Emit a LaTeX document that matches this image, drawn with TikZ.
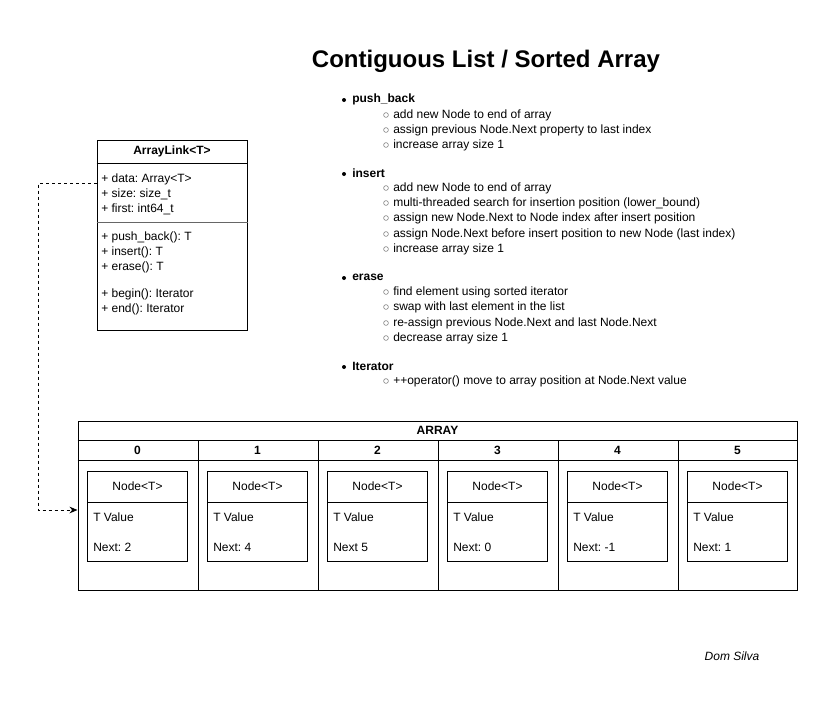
\documentclass[tikz,border=0pt]{standalone}
\usepackage{fontspec}
\setmainfont{Liberation Sans}
\usetikzlibrary{arrows.meta}
\frenchspacing

\begin{document}
\begin{tikzpicture}[x=0.75pt,y=-0.75pt,
    txt/.style={anchor=west,inner sep=0pt,font=\fontsize{9}{11}\selectfont},
    ctxt/.style={inner sep=0pt,font=\fontsize{9}{11}\selectfont},
    btxt/.style={ctxt,font=\fontsize{9}{11}\selectfont\bfseries},
    bul/.style={circle,fill=black,inner sep=0pt,minimum size=3pt},
    subbul/.style={circle,draw=black!55,line width=0.4pt,inner sep=0pt,minimum size=3.6pt},
    cellbox/.style={draw,line width=0.75pt,minimum width=75pt,minimum height=67.5pt,inner sep=0pt},
    link/.style={draw,line width=0.75pt,dash pattern=on 2.25pt off 2.25pt,-{Stealth[length=6pt,width=5pt]}}]
  \useasboundingbox (0,0) rectangle (828,701);

  % Title
  \node[inner sep=0pt,font=\fontsize{18}{22}\selectfont\bfseries] (title) at (486,61) {Contiguous List / Sorted Array};

  % Class box
  \node[draw,line width=0.75pt,minimum width=112.5pt,minimum height=142.5pt,inner sep=0pt] (cls) at (172,235) {};
  \node[btxt] (clsname) at (172,151) {ArrayLink<T>};
  \draw[line width=0.75pt] (cls.west |- 0,163) -- (cls.east |- 0,163);
  \draw[line width=0.4pt,black!60] (cls.west |- 0,222) -- (cls.east |- 0,222);
  \node[txt] (fdata) at (101,179) {+ data: Array<T>};
  \node[txt] (fsize) at (101,194) {+ size: size\_t};
  \node[txt] (ffirst) at (101,209) {+ first: int64\_t};
  \node[txt] (mpush) at (101,237) {+ push\_back(): T};
  \node[txt] (minsert) at (101,252) {+ insert(): T};
  \node[txt] (merase) at (101,267) {+ erase(): T};
  \node[txt] (mbegin) at (101,294) {+ begin(): Iterator};
  \node[txt] (mend) at (101,309) {+ end(): Iterator};

  % Notes
  \node[bul] (b1) at (344,100) {};
  \node[txt,font=\fontsize{9}{11}\selectfont\bfseries] (h1) at (352,99) {push\_back};
  \node[subbul] at (386,115) {};
  \node[txt] (s11) at (393,115) {add new Node to end of array};
  \node[subbul] at (386,130) {};
  \node[txt] (s12) at (393,130) {assign previous Node.Next property to last index};
  \node[subbul] at (386,145) {};
  \node[txt] (s13) at (393,145) {increase array size 1};

  \node[bul] (b2) at (344,174) {};
  \node[txt,font=\fontsize{9}{11}\selectfont\bfseries] (h2) at (352,173) {insert};
  \node[subbul] at (386,188) {};
  \node[txt] (s21) at (393,188) {add new Node to end of array};
  \node[subbul] at (386,203) {};
  \node[txt] (s22) at (393,203) {multi-threaded search for insertion position (lower\_bound)};
  \node[subbul] at (386,218) {};
  \node[txt] (s23) at (393,218) {assign new Node.Next to Node index after insert position};
  \node[subbul] at (386,234) {};
  \node[txt] (s24) at (393,234) {assign Node.Next before insert position to new Node (last index)};
  \node[subbul] at (386,249) {};
  \node[txt] (s25) at (393,249) {increase array size 1};

  \node[bul] (b3) at (344,278) {};
  \node[txt,font=\fontsize{9}{11}\selectfont\bfseries] (h3) at (352,277) {erase};
  \node[subbul] at (386,292) {};
  \node[txt] (s31) at (393,292) {find element using sorted iterator};
  \node[subbul] at (386,307) {};
  \node[txt] (s32) at (393,307) {swap with last element in the list};
  \node[subbul] at (386,323) {};
  \node[txt] (s33) at (393,323) {re-assign previous Node.Next and last Node.Next};
  \node[subbul] at (386,338) {};
  \node[txt] (s34) at (393,338) {decrease array size 1};

  \node[bul] (b4) at (344,367) {};
  \node[txt,font=\fontsize{9}{11}\selectfont\bfseries] (h4) at (352,366) {Iterator};
  \node[subbul] at (386,381) {};
  \node[txt] (s41) at (393,381) {++operator() move to array position at Node.Next value};

  % Array
  \node[draw,line width=0.75pt,minimum width=539.25pt,minimum height=126.75pt,inner sep=0pt] (arr) at (437.5,505.5) {};
  \node[btxt] (arrname) at (437.5,430) {ARRAY};
  \draw[line width=0.75pt] (arr.west |- 0,440) -- (arr.east |- 0,440);
  \draw[line width=0.75pt] (arr.west |- 0,460) -- (arr.east |- 0,460);
  \foreach \i/\nxt in {0/Next: 2,1/Next: 4,2/Next 5,3/Next: 0,4/Next: -1,5/Next: 1}{
    \ifnum\i>0
      \draw[line width=0.75pt] (78+120*\i,440) -- (78+120*\i,590);
    \fi
    \node[btxt] (idx\i) at (137.5+120*\i,450) {\i};
    \node[cellbox] (cell\i) at (137.5+120*\i,516) {};
    \draw[line width=0.75pt] (cell\i.west |- 0,502) -- (cell\i.east |- 0,502);
    \node[ctxt] (cname\i) at (137.5+120*\i,486) {Node<T>};
    \node[txt] (cval\i) at (93+120*\i,517) {T Value};
    \node[txt] (cnext\i) at (93+120*\i,547) {\nxt};
  }

  % Link from class to array
  \coordinate (src) at (cls.west |- 0,183);
  \coordinate (dst) at (arr.west |- 0,510);
  \draw[link] (src) -- (38,183) |- (dst);

  \node[inner sep=0pt,font=\fontsize{9}{11}\selectfont\itshape] (author) at (732,656) {Dom Silva};
\end{tikzpicture}
\end{document}
